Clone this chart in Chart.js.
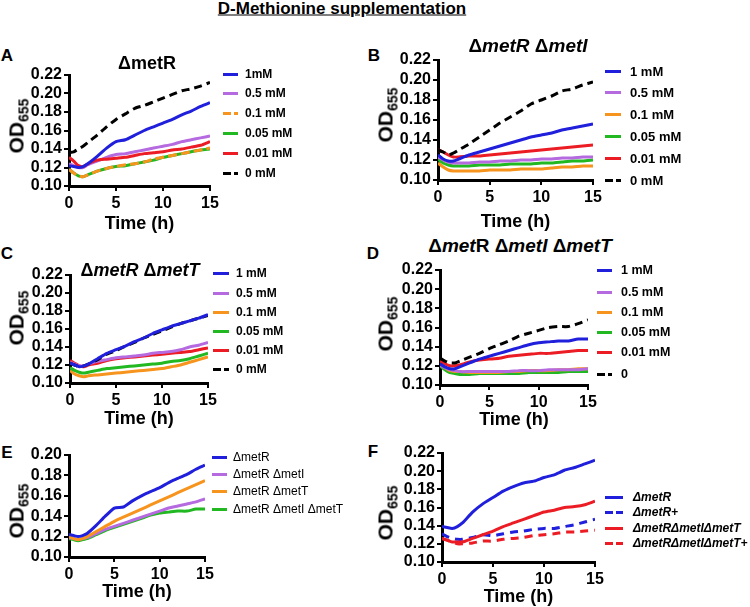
<!DOCTYPE html>
<html>
<head>
<meta charset="utf-8">
<script src="https://cdn.jsdelivr.net/npm/chart.js@4.4.1/dist/chart.umd.min.js"></script>
<style>
  body { margin: 0; width: 750px; height: 607px; background: #fff; position: relative; overflow: hidden;
         font-family: 'Liberation Sans', Arial, sans-serif; color: #000; }
  .t { position: absolute; white-space: nowrap; line-height: 1; }
  .c { transform: translate(-50%, -50%); }
  .od { position: absolute; white-space: nowrap; line-height: 1; font-weight: bold; font-size: 21px;
        transform: translate(-50%, -50%) rotate(-90deg); }
  .od sub { font-size: 14px; line-height: 0; vertical-align: -5px; }
  .lg { position: absolute; white-space: nowrap; line-height: 1; transform: translateY(-50%); }
  .sw { position: absolute; height: 3px; }
</style>
</head>
<body>
<script>
// time points (h)
const hours = [0, 0.5, 1, 1.5, 2, 3, 4, 5, 6, 7, 8, 9, 10, 11, 12, 13, 14, 15];
const timeTicks = [0, 5, 10, 15];
const odTicks = [0.10, 0.12, 0.14, 0.16, 0.18, 0.20, 0.22];
const odTicksE = [0.10, 0.12, 0.14, 0.16, 0.18, 0.20];

// A: ΔmetR
const a1mM   = [0.122, 0.121, 0.120, 0.121, 0.124, 0.132, 0.141, 0.148, 0.150, 0.155, 0.160, 0.164, 0.168, 0.172, 0.177, 0.181, 0.186, 0.190];
const a05mM  = [0.124, 0.122, 0.120, 0.120, 0.123, 0.127, 0.131, 0.134, 0.135, 0.137, 0.139, 0.141, 0.143, 0.145, 0.148, 0.150, 0.152, 0.154];
const a01mM  = [0.118, 0.114, 0.111, 0.110, 0.112, 0.116, 0.119, 0.121, 0.123, 0.124, 0.126, 0.129, 0.131, 0.133, 0.135, 0.137, 0.139, 0.141];
const a005mM = [0.118, 0.114, 0.111, 0.110, 0.112, 0.116, 0.119, 0.121, 0.122, 0.124, 0.126, 0.128, 0.131, 0.133, 0.135, 0.137, 0.139, 0.140];
const a001mM = [0.131, 0.127, 0.122, 0.121, 0.124, 0.128, 0.129, 0.130, 0.131, 0.133, 0.135, 0.136, 0.137, 0.139, 0.140, 0.142, 0.144, 0.148];
const a0mM   = [0.136, 0.137, 0.140, 0.143, 0.147, 0.155, 0.164, 0.172, 0.178, 0.184, 0.187, 0.191, 0.195, 0.199, 0.203, 0.205, 0.208, 0.212];

// B: ΔmetR ΔmetI
const b1mM   = [0.125, 0.121, 0.119, 0.119, 0.121, 0.125, 0.128, 0.131, 0.134, 0.137, 0.140, 0.143, 0.145, 0.147, 0.150, 0.152, 0.154, 0.156];
const b05mM  = [0.123, 0.120, 0.118, 0.117, 0.117, 0.117, 0.118, 0.118, 0.119, 0.119, 0.120, 0.120, 0.121, 0.121, 0.122, 0.122, 0.123, 0.123];
const b01mM  = [0.117, 0.113, 0.110, 0.109, 0.109, 0.109, 0.109, 0.110, 0.110, 0.110, 0.111, 0.111, 0.111, 0.112, 0.113, 0.113, 0.114, 0.114];
const b005mM = [0.121, 0.117, 0.115, 0.114, 0.114, 0.114, 0.115, 0.115, 0.115, 0.116, 0.116, 0.116, 0.117, 0.117, 0.118, 0.119, 0.119, 0.120];
const b001mM = [0.130, 0.128, 0.125, 0.123, 0.123, 0.124, 0.124, 0.125, 0.126, 0.127, 0.128, 0.129, 0.130, 0.131, 0.132, 0.133, 0.134, 0.135];
const b0mM   = [0.130, 0.128, 0.125, 0.127, 0.130, 0.136, 0.143, 0.150, 0.157, 0.163, 0.169, 0.176, 0.180, 0.184, 0.189, 0.191, 0.195, 0.198];

// C: ΔmetR ΔmetT
const c1mM   = [0.122, 0.120, 0.118, 0.119, 0.121, 0.127, 0.133, 0.137, 0.141, 0.146, 0.150, 0.155, 0.159, 0.163, 0.166, 0.169, 0.172, 0.176];
const c05mM  = [0.123, 0.121, 0.119, 0.119, 0.121, 0.124, 0.126, 0.128, 0.129, 0.130, 0.131, 0.133, 0.134, 0.135, 0.137, 0.140, 0.142, 0.145];
const c01mM  = [0.114, 0.110, 0.108, 0.107, 0.108, 0.109, 0.110, 0.111, 0.112, 0.113, 0.114, 0.115, 0.116, 0.118, 0.120, 0.123, 0.126, 0.129];
const c005mM = [0.117, 0.114, 0.112, 0.111, 0.112, 0.114, 0.116, 0.117, 0.118, 0.119, 0.120, 0.121, 0.122, 0.124, 0.125, 0.127, 0.130, 0.133];
const c001mM = [0.125, 0.122, 0.119, 0.118, 0.120, 0.122, 0.125, 0.127, 0.128, 0.129, 0.130, 0.131, 0.132, 0.133, 0.134, 0.135, 0.137, 0.139];
const c0mM   = [0.122, 0.120, 0.118, 0.119, 0.121, 0.126, 0.132, 0.136, 0.141, 0.145, 0.150, 0.154, 0.158, 0.162, 0.166, 0.169, 0.172, 0.175];

// D: ΔmetR ΔmetI ΔmetT
const d1mM   = [0.122, 0.119, 0.117, 0.117, 0.119, 0.123, 0.127, 0.130, 0.133, 0.136, 0.139, 0.142, 0.144, 0.145, 0.146, 0.146, 0.148, 0.148];
const d05mM  = [0.121, 0.118, 0.116, 0.115, 0.114, 0.114, 0.114, 0.114, 0.114, 0.114, 0.115, 0.115, 0.115, 0.116, 0.116, 0.116, 0.116, 0.117];
const d01mM  = [0.121, 0.118, 0.115, 0.114, 0.114, 0.113, 0.113, 0.113, 0.113, 0.114, 0.114, 0.115, 0.115, 0.115, 0.116, 0.116, 0.117, 0.117];
const d005mM = [0.120, 0.116, 0.113, 0.112, 0.111, 0.111, 0.112, 0.112, 0.112, 0.112, 0.112, 0.113, 0.113, 0.113, 0.113, 0.114, 0.114, 0.114];
const d001mM = [0.125, 0.122, 0.120, 0.120, 0.121, 0.124, 0.126, 0.127, 0.128, 0.130, 0.131, 0.132, 0.133, 0.133, 0.134, 0.135, 0.136, 0.136];
const d0mM   = [0.128, 0.125, 0.123, 0.123, 0.125, 0.129, 0.133, 0.138, 0.142, 0.146, 0.151, 0.154, 0.157, 0.160, 0.161, 0.161, 0.164, 0.168];

// E: strains without supplement
const eR   = [0.122, 0.121, 0.120, 0.121, 0.123, 0.131, 0.140, 0.148, 0.149, 0.155, 0.160, 0.164, 0.168, 0.173, 0.177, 0.181, 0.186, 0.190];
const eRI  = [0.119, 0.118, 0.117, 0.118, 0.119, 0.123, 0.127, 0.130, 0.133, 0.136, 0.139, 0.142, 0.145, 0.148, 0.150, 0.152, 0.154, 0.157];
const eRT  = [0.120, 0.118, 0.117, 0.118, 0.120, 0.125, 0.130, 0.135, 0.139, 0.143, 0.147, 0.151, 0.155, 0.159, 0.163, 0.167, 0.171, 0.175];
const eRIT = [0.118, 0.117, 0.116, 0.117, 0.118, 0.122, 0.126, 0.129, 0.132, 0.135, 0.138, 0.141, 0.143, 0.144, 0.145, 0.145, 0.147, 0.147];

// F: with / without supplement (+)
const fR      = [0.139, 0.138, 0.137, 0.139, 0.143, 0.155, 0.164, 0.171, 0.178, 0.183, 0.187, 0.189, 0.193, 0.196, 0.201, 0.204, 0.208, 0.212];
const fRplus  = [0.131, 0.128, 0.126, 0.125, 0.125, 0.127, 0.130, 0.129, 0.131, 0.133, 0.134, 0.136, 0.137, 0.137, 0.139, 0.141, 0.144, 0.147];
const fRIT    = [0.126, 0.124, 0.122, 0.122, 0.122, 0.126, 0.130, 0.134, 0.139, 0.143, 0.147, 0.151, 0.155, 0.157, 0.160, 0.161, 0.163, 0.167];
const fRITplus= [0.126, 0.124, 0.122, 0.120, 0.120, 0.121, 0.123, 0.123, 0.125, 0.126, 0.127, 0.129, 0.130, 0.131, 0.133, 0.133, 0.134, 0.135];

const concLabels = ['1mM', '0.5 mM', '0.1 mM', '0.05 mM', '0.01 mM', '0 mM'];
const concLabelsB = ['1 mM', '0.5 mM', '0.1 mM', '0.05 mM', '0.01 mM', '0 mM'];
const concLabelsD = ['1 mM', '0.5 mM', '0.1 mM', '0.05 mM', '0.01 mM', '0'];
const strainLabels = ['ΔmetR', 'ΔmetR ΔmetI', 'ΔmetR ΔmetT', 'ΔmetR ΔmetI ΔmetT'];
const suppLabels = ['Δ<i>metR</i>', 'Δ<i>metR</i>+', 'Δ<i>metR</i>Δ<i>metI</i>Δ<i>metT</i>', 'Δ<i>metR</i>Δ<i>metI</i>Δ<i>metT</i>+'];

const BLUE = '#1f1fdc', PURPLE = '#b66ae0', ORANGE = '#f7941d', GREEN = '#22b822', RED = '#ec1c24', BLACK = '#000';
const FONT = "'Liberation Sans', Arial, sans-serif";
Chart.defaults.font.family = FONT;

function text(html, x, y, css) {
  const d = document.createElement('div');
  d.className = 't c';
  d.innerHTML = html;
  d.style.cssText += `left:${x}px;top:${y}px;${css}`;
  document.body.appendChild(d);
}

function odLabel(x, y) {
  const d = document.createElement('div');
  d.className = 'od';
  d.innerHTML = 'OD<sub>655</sub>';
  d.style.left = x + 'px';
  d.style.top = y + 'px';
  document.body.appendChild(d);
}

function legend(items, x1, x2, tx, rows, css) {
  items.forEach((it, i) => {
    const s = document.createElement('div');
    s.className = 'sw';
    s.style.left = x1 + 'px';
    s.style.top = (rows[i] - 1.5) + 'px';
    s.style.width = (x2 - x1) + 'px';
    s.style.background = it.dash
      ? `linear-gradient(to right, ${it.color} 0 8px, transparent 8px 11px, ${it.color} 11px 100%)`
      : it.color;
    document.body.appendChild(s);
    const t = document.createElement('div');
    t.className = 'lg';
    t.innerHTML = it.label;
    t.style.cssText += `left:${tx}px;top:${rows[i]}px;${css}`;
    document.body.appendChild(t);
  });
}

function panel(p) {
  const yw = 50, padTop = 12, padRight = 14;
  const xh = p.timeY + 11 - p.b;
  const w = yw + p.r - p.l + padRight;
  const h = padTop + p.b - p.t + xh;
  const cv = document.createElement('canvas');
  cv.width = w;
  cv.height = h;
  cv.style.cssText = `position:absolute;left:${p.l - yw}px;top:${p.t - padTop}px;width:${w}px;height:${h}px`;
  document.body.appendChild(cv);

  const axisStyle = {
    grid: { display: true, drawOnChartArea: false, drawTicks: true, tickLength: 5, lineWidth: 2, color: BLACK },
    border: { display: true, color: BLACK, width: 3 }
  };

  new Chart(cv, {
    type: 'line',
    data: {
      datasets: p.series.map(s => ({
        data: hours.map((hr, i) => ({ x: hr, y: s.values[i] })),
        borderColor: s.color,
        borderWidth: 3,
        borderDash: s.dash || [],
        pointRadius: 0,
        tension: 0.2,
        fill: false
      }))
    },
    options: {
      responsive: false,
      animation: false,
      layout: { padding: { top: padTop, right: padRight, left: 0, bottom: 0 } },
      plugins: { legend: { display: false }, tooltip: { enabled: false } },
      scales: {
        x: {
          type: 'linear', min: 0, max: 15,
          afterBuildTicks: s => { s.ticks = timeTicks.map(v => ({ value: v })); },
          afterFit: s => { s.height = xh; },
          ticks: { color: BLACK, padding: 3, maxRotation: 0, autoSkip: false, font: { size: 16, weight: 'bold' } },
          title: { display: true, text: 'Time (h)', color: BLACK, padding: 0, font: { size: 18, weight: 'bold' } },
          ...axisStyle
        },
        y: {
          type: 'linear', min: p.yTicks[0], max: p.yTicks[p.yTicks.length - 1],
          afterBuildTicks: s => { s.ticks = p.yTicks.map(v => ({ value: v })); },
          afterFit: s => { s.width = yw; },
          ticks: { color: BLACK, padding: 2, autoSkip: false, font: { size: 16, weight: 'bold', lineHeight: 1 },
                   callback: v => v.toFixed(2) },
          ...axisStyle
        }
      }
    }
  });
}

// main title
text('D-Methionine supplementation', 342, 8, 'font-size:17px;font-weight:bold;text-decoration:underline;');

// panel letters
[['A', 7, 55], ['B', 374, 55], ['C', 7, 253], ['D', 373, 253], ['E', 7, 452], ['F', 373, 451]]
  .forEach(([l, x, y]) => text(l, x, y, 'font-size:17px;font-weight:bold;'));

// A
panel({ l: 69, t: 75, r: 210, b: 186, timeY: 224, yTicks: odTicks, series: [
  { values: a0mM, color: BLACK, dash: [8, 5] },
  { values: a1mM, color: BLUE },
  { values: a01mM, color: ORANGE, dash: [9, 4] },
  { values: a005mM, color: GREEN },
  { values: a001mM, color: RED },
  { values: a05mM, color: PURPLE }
]});
text('ΔmetR', 147, 63, 'font-size:18px;font-weight:bold;');
odLabel(16, 126);
legend([
  { label: concLabels[0], color: BLUE }, { label: concLabels[1], color: PURPLE },
  { label: concLabels[2], color: ORANGE, dash: true }, { label: concLabels[3], color: GREEN },
  { label: concLabels[4], color: RED }, { label: concLabels[5], color: BLACK, dash: true }
], 223, 238, 245, [74, 93, 113, 133, 153, 173], 'font-size:12px;font-weight:bold;');

// B
panel({ l: 438, t: 60, r: 593, b: 180, timeY: 222, yTicks: odTicks, series: [
  { values: b0mM, color: BLACK, dash: [8, 5] },
  { values: b1mM, color: BLUE },
  { values: b001mM, color: RED },
  { values: b05mM, color: PURPLE },
  { values: b005mM, color: GREEN },
  { values: b01mM, color: ORANGE }
]});
text('Δ<i>metR</i> Δ<i>metI</i>', 528, 45, 'font-size:19px;font-weight:bold;');
odLabel(385, 115);
legend([
  { label: concLabelsB[0], color: BLUE }, { label: concLabelsB[1], color: PURPLE },
  { label: concLabelsB[2], color: ORANGE }, { label: concLabelsB[3], color: GREEN },
  { label: concLabelsB[4], color: RED }, { label: concLabelsB[5], color: BLACK, dash: true }
], 605, 621, 630, [71, 92, 114, 136, 158, 180], 'font-size:13px;font-weight:bold;');

// C
panel({ l: 70, t: 275, r: 208, b: 383, timeY: 419, yTicks: odTicks, series: [
  { values: c1mM, color: BLUE },
  { values: c0mM, color: BLACK, dash: [8, 5] },
  { values: c05mM, color: PURPLE },
  { values: c001mM, color: RED },
  { values: c005mM, color: GREEN },
  { values: c01mM, color: ORANGE }
]});
text('Δ<i>metR</i> Δ<i>metT</i>', 140, 270, 'font-size:18px;font-weight:bold;');
odLabel(16, 318);
legend([
  { label: concLabelsB[0], color: BLUE }, { label: concLabelsB[1], color: PURPLE },
  { label: concLabelsB[2], color: ORANGE }, { label: concLabelsB[3], color: GREEN },
  { label: concLabelsB[4], color: RED }, { label: concLabelsB[5], color: BLACK, dash: true }
], 213, 229, 236, [273, 293, 312, 331, 350, 369], 'font-size:12px;font-weight:bold;');

// D
panel({ l: 440, t: 270, r: 588, b: 385, timeY: 420, yTicks: odTicks, series: [
  { values: d0mM, color: BLACK, dash: [8, 5] },
  { values: d1mM, color: BLUE },
  { values: d001mM, color: RED },
  { values: d05mM, color: PURPLE },
  { values: d01mM, color: ORANGE },
  { values: d005mM, color: GREEN }
]});
text('Δ<i>met</i>R Δ<i>metI</i> Δ<i>metT</i>', 520, 245, 'font-size:19px;font-weight:bold;');
odLabel(385, 324);
legend([
  { label: concLabelsD[0], color: BLUE }, { label: concLabelsD[1], color: PURPLE },
  { label: concLabelsD[2], color: ORANGE }, { label: concLabelsD[3], color: GREEN },
  { label: concLabelsD[4], color: RED }, { label: concLabelsD[5], color: BLACK, dash: true }
], 597, 612, 621, [270, 292, 312, 332, 352, 374], 'font-size:12.5px;font-weight:bold;');

// E
panel({ l: 69, t: 455, r: 205, b: 557, timeY: 592, yTicks: odTicksE, series: [
  { values: eR, color: BLUE },
  { values: eRT, color: ORANGE },
  { values: eRI, color: PURPLE },
  { values: eRIT, color: GREEN }
]});
odLabel(16, 511);
legend([
  { label: strainLabels[0], color: BLUE }, { label: strainLabels[1], color: PURPLE },
  { label: strainLabels[2], color: ORANGE }, { label: strainLabels[3], color: GREEN }
], 212, 227, 233, [457, 474, 491, 509], 'font-size:12px;');

// F
panel({ l: 442, t: 453, r: 595, b: 562, timeY: 597, yTicks: odTicks, series: [
  { values: fR, color: BLUE },
  { values: fRIT, color: RED },
  { values: fRplus, color: BLUE, dash: [8, 6] },
  { values: fRITplus, color: RED, dash: [8, 6] }
]});
odLabel(385, 513);
legend([
  { label: suppLabels[0], color: BLUE }, { label: suppLabels[1], color: BLUE, dash: true },
  { label: suppLabels[2], color: RED }, { label: suppLabels[3], color: RED, dash: true }
], 605, 623, 633, [497, 512, 528, 543], 'font-size:12px;font-weight:bold;font-style:italic;');
</script>
</body>
</html>
